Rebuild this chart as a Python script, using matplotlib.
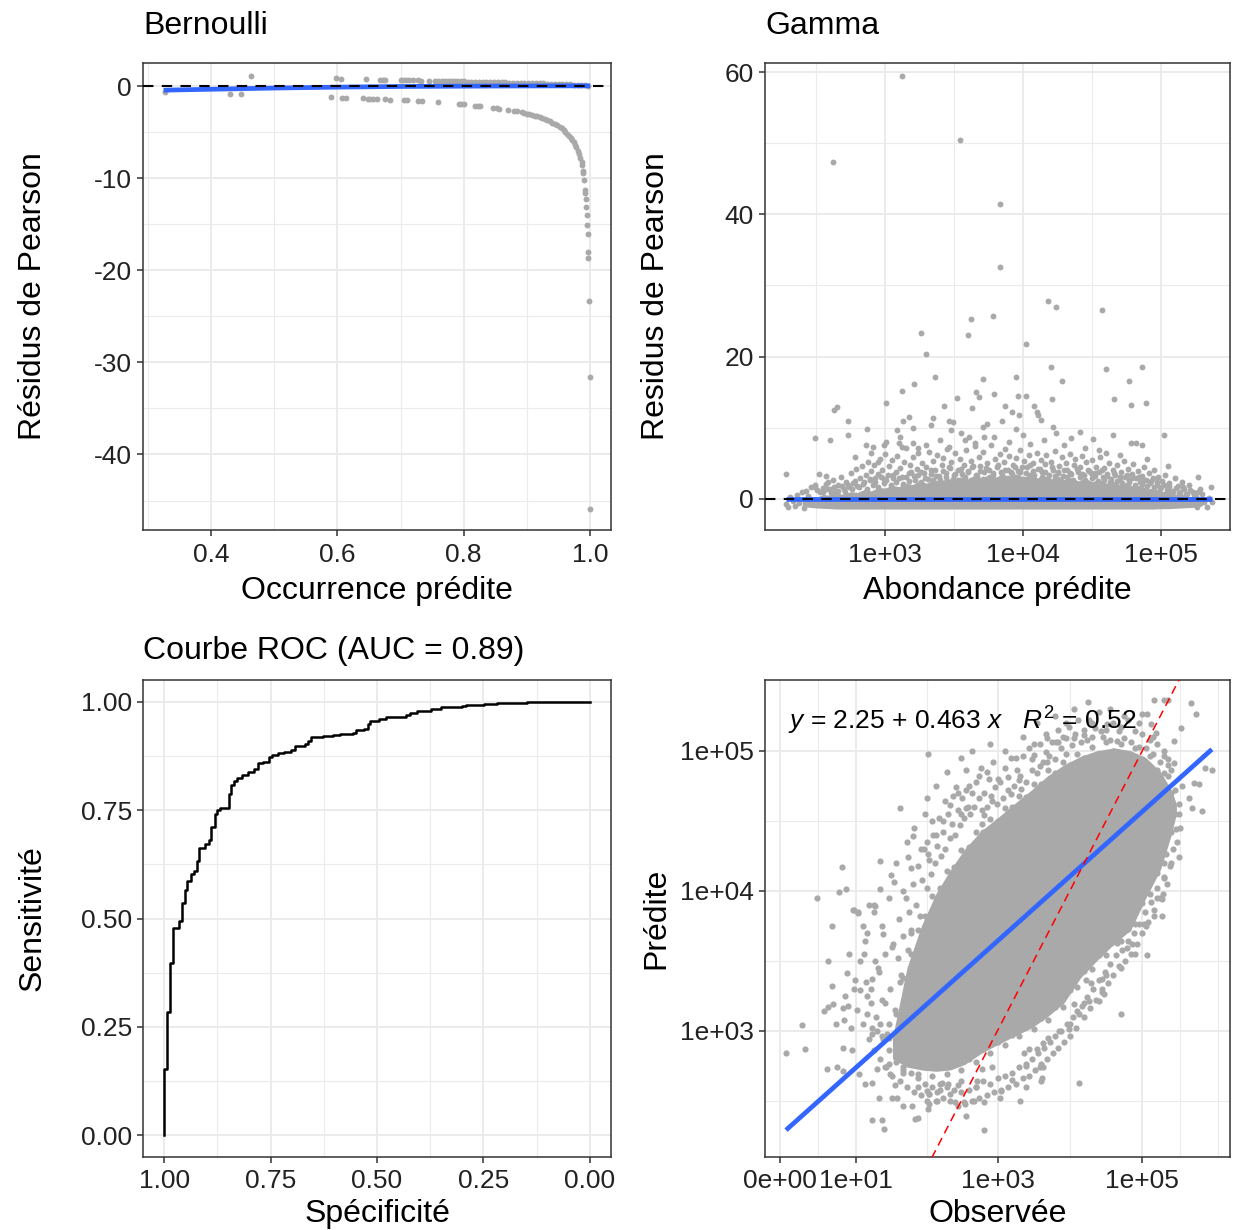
import numpy as np
import matplotlib
matplotlib.use('Agg')
import matplotlib.pyplot as plt
from matplotlib.ticker import FixedLocator, FixedFormatter

plt.rcParams['font.family'] = ['Liberation Sans', 'DejaVu Sans']
plt.rcParams['axes.unicode_minus'] = False
plt.rcParams['mathtext.fontset'] = 'custom'
plt.rcParams['mathtext.rm'] = 'Liberation Sans'
plt.rcParams['mathtext.it'] = 'Liberation Sans:italic'

# ---------------- Bernoulli : occurrence predite / residus de Pearson
bern_pos = [(0.463, 1.08), (0.598, 0.82), (0.606, 0.81), (0.645, 0.74), (0.668, 0.70),
            (0.673, 0.70), (0.676, 0.69), (0.700, 0.65), (0.704, 0.65), (0.708, 0.64),
            (0.713, 0.63), (0.720, 0.62), (0.727, 0.61), (0.733, 0.60), (0.745, 0.59),
            (0.755, 0.57), (0.760, 0.56), (0.765, 0.55), (0.770, 0.55), (0.775, 0.54),
            (0.780, 0.53), (0.785, 0.52), (0.790, 0.52), (0.795, 0.51), (0.800, 0.50),
            (0.806, 0.49), (0.812, 0.48), (0.818, 0.47), (0.824, 0.46), (0.830, 0.45),
            (0.836, 0.44), (0.842, 0.43), (0.848, 0.42), (0.854, 0.41), (0.860, 0.40),
            (0.866, 0.39), (0.872, 0.38), (0.878, 0.37), (0.884, 0.36), (0.890, 0.35),
            (0.896, 0.34), (0.902, 0.33), (0.908, 0.32), (0.914, 0.31), (0.920, 0.29),
            (0.926, 0.28), (0.932, 0.27), (0.938, 0.26), (0.944, 0.24), (0.950, 0.23),
            (0.956, 0.21), (0.962, 0.20), (0.968, 0.18), (0.974, 0.16), (0.980, 0.14),
            (0.986, 0.12), (0.992, 0.09), (0.997, 0.05)]
bern_neg = [(0.327, -0.70), (0.430, -0.87), (0.448, -0.90), (0.590, -1.20), (0.608, -1.25),
            (0.614, -1.26), (0.641, -1.34), (0.648, -1.36), (0.652, -1.37), (0.657, -1.38),
            (0.662, -1.40), (0.676, -1.45), (0.683, -1.47), (0.705, -1.55), (0.710, -1.57),
            (0.728, -1.64), (0.734, -1.66), (0.760, -1.78), (0.792, -1.95), (0.796, -1.97),
            (0.800, -2.00), (0.818, -2.12), (0.822, -2.15), (0.826, -2.18), (0.846, -2.34),
            (0.852, -2.40), (0.856, -2.44), (0.870, -2.59), (0.880, -2.71), (0.884, -2.76),
            (0.892, -2.87), (0.896, -2.93), (0.900, -3.00), (0.904, -3.07), (0.908, -3.14),
            (0.912, -3.22), (0.916, -3.30), (0.920, -3.39), (0.924, -3.49), (0.928, -3.59),
            (0.932, -3.70), (0.936, -3.82), (0.940, -3.96), (0.944, -4.11), (0.948, -4.27),
            (0.952, -4.45), (0.955, -4.61), (0.958, -4.78), (0.961, -4.96), (0.964, -5.17),
            (0.967, -5.41), (0.970, -5.69), (0.972, -5.89), (0.974, -6.12), (0.976, -6.38),
            (0.978, -6.67), (0.980, -7.00), (0.982, -7.38), (0.984, -7.84), (0.9865, -8.2),
            (0.9875, -8.6), (0.9885, -9.2), (0.989, -9.4), (0.990, -10.2), (0.9915, -11.3),
            (0.992, -11.6), (0.993, -12.3), (0.994, -13.1), (0.995, -14.0), (0.9956, -15.1),
            (0.9962, -16.1), (0.997, -18.0), (0.9972, -18.7), (0.998, -23.3), (0.999, -31.6),
            (0.9995, -45.9)]
bern_fit_x = [0.325, 0.40, 0.50, 0.60, 0.70, 0.85, 1.0]
bern_fit_y = [-0.45, -0.35, -0.22, -0.12, -0.05, 0.0, 0.02]

# ---------------- Gamma : log10(abondance predite) / residus de Pearson
gamma_out = [(2.62, 47.4), (3.12, 59.5), (3.54, 50.5), (3.83, 41.5), (3.83, 32.6), (4.18, 27.8),
             (4.24, 27.0), (4.57, 26.5), (3.26, 23.3), (3.62, 25.3), (3.60, 23.1), (3.78, 25.7),
             (4.02, 21.7), (3.30, 20.3), (4.60, 18.3), (4.86, 18.5), (4.20, 18.5), (4.28, 16.5),
             (4.77, 16.5), (4.66, 14.0), (4.78, 13.2), (4.89, 13.4), (4.21, 14.0), (3.71, 16.9),
             (3.36, 17.1), (3.21, 16.2), (3.12, 15.2), (3.01, 13.5), (3.52, 14.2), (3.66, 15.0),
             (3.68, 14.3), (3.79, 14.8), (3.43, 13.1), (3.63, 12.7), (3.95, 17.1), (3.96, 14.4),
             (4.02, 14.4), (4.08, 13.1), (4.10, 12.2), (4.11, 11.8), (4.13, 11.1), (2.63, 12.5),
             (2.65, 12.9), (2.73, 11.0), (2.49, 8.6), (2.60, 8.2), (2.73, 8.9), (2.28, 3.5),
             (2.52, 3.5), (2.57, 3.2), (2.59, 2.3), (2.49, 1.7), (2.87, 9.8), (2.78, 5.9),
             (5.02, 9.0), (5.27, 3.1), (5.36, 1.7), (4.41, 9.4), (4.51, 8.4), (4.65, 9.0),
             (4.78, 7.9), (4.82, 7.9), (4.86, 7.5), (4.22, 10.1), (4.24, 9.3), (4.35, 8.6),
             (3.95, 9.8), (3.85, 11.0), (3.87, 13.1), (3.92, 12.2), (3.97, 11.8), (3.09, 9.6),
             (3.11, 8.7), (3.17, 11.5), (3.13, 11.0), (3.20, 10.0), (3.24, 7.2), (3.35, 11.4),
             (3.33, 10.4), (3.46, 11.0), (3.49, 10.8), (3.48, 9.7), (3.46, 7.3), (3.58, 8.2),
             (3.61, 8.7), (3.74, 10.5), (3.71, 10.1), (3.72, 8.7), (3.79, 8.7), (2.90, 6.5),
             (2.91, 7.3), (2.86, 7.6), (2.99, 7.6), (3.01, 8.0), (3.10, 7.9), (3.12, 7.3),
             (3.20, 7.9), (3.55, 9.2), (3.90, 8.0), (4.00, 8.9), (4.05, 7.7), (4.15, 8.3),
             (4.30, 7.5), (4.45, 7.1), (4.55, 6.8), (3.65, 7.9), (3.40, 8.3), (3.30, 7.6),
             (4.60, 6.5), (4.70, 6.2), (4.90, 5.6), (5.05, 4.6), (2.95, 5.1)]
gamma_pts = [(2.28, -0.8), (2.30, -1.2), (2.31, 0.2), (2.33, -0.3), (2.35, -1.0), (2.36, 0.5),
             (2.38, -0.6), (2.40, 0.9), (2.41, -1.3), (2.43, 1.1), (2.44, 0.4), (2.46, 1.6),
             (2.47, -0.2), (2.49, 2.0), (2.51, 1.2), (2.53, 0.9), (2.55, 1.5), (2.57, 2.1),
             (2.60, 1.3), (2.62, 2.6), (2.64, 1.0), (2.66, 1.9), (2.68, 3.0), (2.70, 1.4),
             (2.72, 2.4), (2.74, 1.7), (2.75, 3.6), (2.77, 2.2), (2.79, 4.2), (2.80, 1.8),
             (2.82, 2.9), (2.83, 4.6), (2.85, 2.3), (2.86, 3.4), (2.88, 5.2), (2.89, 2.7),
             (2.90, 3.9), (2.92, 4.8), (2.93, 2.9), (2.95, 3.5), (2.96, 5.6), (2.98, 4.1),
             (2.99, 2.8), (3.00, 6.3), (3.02, 3.3), (3.03, 4.6), (3.05, 5.4), (3.06, 2.9),
             (3.08, 3.8), (3.09, 6.0), (3.11, 4.3), (3.12, 3.1), (3.14, 5.1), (3.15, 7.2),
             (3.17, 3.6), (3.18, 4.7), (3.20, 5.8), (3.21, 3.2), (3.23, 4.2), (3.24, 6.4),
             (3.26, 3.7), (3.27, 5.0), (3.29, 2.9), (3.30, 4.4), (3.32, 6.6), (3.33, 3.5),
             (3.35, 5.3), (3.36, 4.0), (3.38, 6.2), (3.39, 3.2), (3.41, 4.7), (3.42, 5.7),
             (3.44, 3.6), (3.45, 7.0), (3.47, 4.3), (3.48, 5.1), (3.50, 3.3), (3.51, 6.5),
             (3.53, 4.0), (3.54, 5.6), (3.56, 3.5), (3.57, 4.8), (3.59, 6.9), (3.60, 3.9),
             (3.62, 5.3), (3.63, 4.4), (3.65, 7.4), (3.66, 3.4), (3.68, 5.9), (3.69, 4.6),
             (3.71, 6.6), (3.72, 3.7), (3.74, 5.0), (3.75, 4.1), (3.77, 7.6), (3.78, 3.3),
             (3.80, 5.6), (3.81, 4.5), (3.83, 6.3), (3.84, 3.8), (3.86, 5.2), (3.87, 7.0),
             (3.89, 4.0), (3.90, 6.0), (3.92, 3.5), (3.93, 4.8), (3.95, 5.7), (3.96, 3.9),
             (3.98, 6.8), (3.99, 4.4), (4.01, 5.3), (4.02, 3.6), (4.04, 6.2), (4.05, 4.7),
             (4.07, 5.0), (4.08, 3.4), (4.10, 6.5), (4.11, 4.2), (4.13, 5.5), (4.14, 3.7),
             (4.16, 4.9), (4.17, 6.1), (4.19, 3.3), (4.20, 5.2), (4.22, 4.0), (4.23, 6.7),
             (4.25, 3.6), (4.26, 4.6), (4.28, 5.8), (4.29, 3.2), (4.31, 5.0), (4.32, 4.1),
             (4.34, 6.3), (4.35, 3.5), (4.37, 4.8), (4.38, 5.6), (4.40, 3.8), (4.41, 4.4),
             (4.43, 6.0), (4.44, 3.3), (4.46, 5.1), (4.47, 4.0), (4.49, 3.6), (4.50, 5.4),
             (4.52, 3.2), (4.53, 4.5), (4.55, 3.8), (4.56, 5.9), (4.58, 3.0), (4.59, 4.3),
             (4.61, 3.5), (4.62, 5.0), (4.64, 2.8), (4.65, 4.0), (4.67, 3.3), (4.68, 4.7),
             (4.70, 2.7), (4.71, 3.7), (4.73, 5.3), (4.74, 3.0), (4.76, 4.2), (4.77, 2.6),
             (4.79, 3.5), (4.80, 4.9), (4.82, 2.9), (4.83, 3.9), (4.85, 2.4), (4.86, 3.2),
             (4.88, 4.5), (4.89, 2.6), (4.91, 3.6), (4.92, 2.2), (4.94, 2.9), (4.95, 4.0),
             (4.97, 2.0), (4.98, 3.1), (5.00, 1.7), (5.01, 2.5), (5.03, 3.4), (5.05, 1.4),
             (5.06, 2.2), (5.08, 1.1), (5.10, 2.9), (5.12, 1.8), (5.13, 0.8), (5.15, 2.3),
             (5.17, 1.3), (5.19, 0.6), (5.20, 1.9), (5.22, -0.8), (5.23, 1.0), (5.25, 0.3),
             (5.26, -1.1), (5.28, 1.4), (5.30, 0.6), (5.31, -0.5), (5.33, -1.2), (5.35, 0.1),
             (5.37, -0.4)]
gamma_dense = [(2.55, 0.9), (2.58, 1.4), (2.61, 0.8), (2.63, 1.6), (2.66, 1.1), (2.69, 1.8),
               (2.71, 0.9), (2.73, 2.0), (2.76, 1.3), (2.78, 2.5), (2.81, 1.6), (2.84, 2.1),
               (2.87, 1.4), (2.89, 2.8), (2.91, 1.9), (2.93, 2.4), (2.95, 1.7), (2.97, 3.0),
               (2.99, 2.2), (3.01, 2.6), (3.04, 1.9), (3.06, 3.4), (3.08, 2.4), (3.10, 2.9),
               (3.13, 2.1), (3.15, 3.1), (3.17, 2.5), (3.19, 3.8), (3.22, 2.7), (3.24, 3.3),
               (3.26, 2.3), (3.28, 3.6), (3.31, 2.8), (3.33, 4.1), (3.35, 2.6), (3.37, 3.2),
               (3.40, 2.7), (3.42, 3.9), (3.44, 3.0), (3.46, 4.5), (3.49, 2.8), (3.51, 3.5),
               (3.53, 2.6), (3.55, 4.2), (3.58, 3.0), (3.60, 3.7), (3.62, 2.7), (3.64, 4.6),
               (3.67, 3.2), (3.69, 3.9), (3.71, 2.8), (3.73, 4.3), (3.76, 3.0), (3.78, 3.6),
               (3.80, 2.7), (3.82, 4.8), (3.85, 3.3), (3.87, 4.1), (3.89, 2.9), (3.91, 3.7),
               (3.94, 4.4), (3.96, 3.1), (3.98, 3.8), (4.00, 2.8), (4.03, 4.5), (4.05, 3.3),
               (4.07, 3.9), (4.09, 2.7), (4.12, 4.2), (4.14, 3.0), (4.16, 3.7), (4.18, 2.8),
               (4.21, 4.4), (4.23, 3.2), (4.25, 3.8), (4.27, 2.7), (4.30, 4.0), (4.32, 3.0),
               (4.34, 3.6), (4.36, 2.6), (4.39, 4.2), (4.41, 3.1), (4.43, 3.5), (4.45, 2.6),
               (4.48, 3.9), (4.50, 2.9), (4.52, 3.6), (4.54, 2.5), (4.57, 4.0), (4.59, 2.7),
               (4.61, 3.2), (4.63, 2.4), (4.66, 3.6), (4.68, 2.5), (4.70, 3.1), (4.72, 2.2),
               (4.75, 3.4), (4.77, 2.3), (4.79, 2.9), (4.81, 2.0), (4.84, 3.1), (4.86, 2.1),
               (4.88, 2.7), (4.90, 1.8), (4.93, 2.5), (4.95, 1.6), (4.97, 2.3), (4.99, 1.4),
               (5.02, 2.0), (5.04, 1.2), (5.06, 1.8), (5.09, 1.0), (5.11, 1.5), (5.14, 0.9),
               (5.16, 1.6), (5.18, 0.7), (5.21, 1.2), (5.24, 0.5), (5.27, 0.9)]
# bande saturee de points (bord irregulier)
band_lx = [2.40, 2.45, 2.50, 2.55, 2.60, 2.65, 2.70, 2.75, 2.80, 2.85, 2.90, 2.95, 3.00, 3.05,
           3.10, 3.15, 3.20, 3.25, 3.30, 3.35, 3.40, 3.45, 3.50, 3.55, 3.60, 3.65, 3.70, 3.75,
           3.80, 3.85, 3.90, 3.95, 4.00, 4.05, 4.10, 4.15, 4.20, 4.25, 4.30, 4.35, 4.40, 4.45,
           4.50, 4.55, 4.60, 4.65, 4.70, 4.75, 4.80, 4.85, 4.90, 4.95, 5.00, 5.05, 5.10, 5.15,
           5.20, 5.25, 5.30]
band_hi = [0.1, 0.4, 0.2, 0.6, 0.5, 0.8, 0.6, 1.0, 0.9, 1.3, 1.1, 1.6, 1.5, 1.9,
           1.7, 2.2, 2.0, 2.5, 2.2, 2.7, 2.4, 2.9, 2.6, 3.1, 2.8, 3.3, 2.9, 3.4,
           3.0, 3.5, 3.1, 3.5, 3.0, 3.4, 2.9, 3.3, 2.8, 3.2, 2.7, 3.0, 2.5, 2.9,
           2.4, 2.7, 2.2, 2.5, 2.0, 2.3, 1.7, 1.9, 1.4, 1.5, 1.0, 1.1, 0.6, 0.7,
           0.3, 0.3, 0.0]
band_lo = [-1.1, -1.2, -1.3, -1.35, -1.4, -1.45, -1.45, -1.45, -1.45, -1.45, -1.45, -1.45, -1.45, -1.45,
           -1.45, -1.45, -1.45, -1.45, -1.45, -1.45, -1.45, -1.45, -1.45, -1.45, -1.45, -1.45, -1.45, -1.45,
           -1.45, -1.45, -1.45, -1.45, -1.45, -1.45, -1.45, -1.45, -1.45, -1.45, -1.45, -1.45, -1.45, -1.45,
           -1.45, -1.45, -1.45, -1.45, -1.45, -1.45, -1.45, -1.45, -1.45, -1.45, -1.4, -1.4, -1.35, -1.3,
           -1.25, -1.2, -1.0]
gamma_fit_x = [2.28, 5.37]
gamma_fit_y = [0.0, 0.0]

# ---------------- Courbe ROC : (1 - specificite, sensibilite)
roc = [(0.0, 0.0), (0.0, 0.154), (0.007, 0.285), (0.013, 0.398), (0.0195, 0.478), (0.0335, 0.494),
       (0.041, 0.536), (0.048, 0.565), (0.054, 0.587), (0.062, 0.602), (0.069, 0.609), (0.076, 0.632),
       (0.082, 0.663), (0.096, 0.672), (0.104, 0.682), (0.110, 0.711), (0.119, 0.740), (0.124, 0.750),
       (0.130, 0.755), (0.152, 0.788), (0.158, 0.807), (0.165, 0.817), (0.171, 0.823), (0.182, 0.831),
       (0.196, 0.838), (0.210, 0.844), (0.220, 0.858), (0.233, 0.862), (0.247, 0.873), (0.253, 0.877),
       (0.268, 0.881), (0.282, 0.885), (0.297, 0.888), (0.307, 0.898), (0.330, 0.902), (0.338, 0.909),
       (0.346, 0.918), (0.373, 0.920), (0.396, 0.923), (0.412, 0.926), (0.443, 0.928), (0.451, 0.934),
       (0.469, 0.937), (0.478, 0.948), (0.484, 0.955), (0.505, 0.960), (0.521, 0.965), (0.568, 0.969),
       (0.578, 0.975), (0.595, 0.979), (0.626, 0.983), (0.650, 0.987), (0.700, 0.990), (0.710, 0.992),
       (0.751, 0.995), (0.782, 0.9977), (0.852, 0.999), (0.899, 1.0), (1.0, 1.0)]

# ---------------- Observee vs predite (log10(1+obs), log10(pred))
core_obs = [1.55, 1.75, 1.95, 2.15, 2.35, 2.55, 2.78, 3.00, 3.23, 3.47, 3.69, 3.92, 4.15, 4.37,
            4.61, 4.84, 5.05, 5.25, 5.40, 5.47]
core_hi = [2.95, 3.45, 3.75, 3.98, 4.15, 4.30, 4.43, 4.52, 4.62, 4.72, 4.82, 4.90, 4.96, 5.00,
           5.02, 5.00, 4.95, 4.85, 4.72, 4.62]
core_lo = [2.80, 2.74, 2.72, 2.71, 2.72, 2.76, 2.84, 2.90, 2.96, 3.02, 3.10, 3.20, 3.38, 3.50,
           3.62, 3.72, 3.95, 4.15, 4.40, 4.55]
# points a la limite de la zone saturee
obs_rim = [(1.50, 2.95), (1.60, 3.12), (1.70, 3.38), (1.80, 3.55), (1.90, 3.72), (2.00, 3.82),
           (2.10, 3.96), (2.20, 4.02), (2.30, 4.14), (2.40, 4.17), (2.50, 4.29), (2.60, 4.31),
           (2.70, 4.42), (2.80, 4.42), (2.90, 4.51), (3.00, 4.50), (3.10, 4.59), (3.20, 4.60),
           (3.30, 4.68), (3.40, 4.67), (3.50, 4.76), (3.60, 4.76), (3.70, 4.86), (3.80, 4.84),
           (3.90, 4.92), (4.00, 4.90), (4.10, 4.98), (4.20, 4.95), (4.30, 5.03), (4.40, 4.98),
           (4.50, 5.06), (4.60, 5.00), (4.70, 5.05), (4.80, 4.98), (4.90, 5.02), (5.00, 4.94),
           (5.10, 4.96), (5.20, 4.86), (5.30, 4.84), (5.40, 4.70),
           (1.50, 2.76), (1.60, 2.81), (1.70, 2.72), (1.80, 2.77), (1.90, 2.69), (2.00, 2.74),
           (2.10, 2.68), (2.20, 2.74), (2.30, 2.69), (2.40, 2.76), (2.50, 2.72), (2.60, 2.80),
           (2.70, 2.78), (2.80, 2.87), (2.90, 2.84), (3.00, 2.92), (3.10, 2.90), (3.20, 2.97),
           (3.30, 2.96), (3.40, 3.03), (3.50, 3.01), (3.60, 3.09), (3.70, 3.08), (3.80, 3.17),
           (3.90, 3.17), (4.00, 3.29), (4.10, 3.31), (4.20, 3.43), (4.30, 3.44), (4.40, 3.54),
           (4.50, 3.54), (4.60, 3.64), (4.70, 3.64), (4.80, 3.73), (4.90, 3.76), (5.00, 3.91),
           (5.10, 3.98), (5.20, 4.13), (5.30, 4.20), (5.40, 4.42)]
obs_pts = [(0.51, 3.95), (0.85, 4.17), (0.81, 3.99), (0.91, 4.01), (1.02, 3.86), (1.07, 3.85),
           (1.22, 3.90), (1.29, 3.85), (1.38, 4.21), (1.38, 4.01), (1.53, 4.11), (1.57, 4.06),
           (1.66, 4.59), (1.76, 4.24), (1.80, 4.16), (1.83, 4.39), (2.02, 4.66), (2.04, 4.98),
           (2.02, 4.35), (2.04, 4.26), (2.15, 4.40), (2.27, 4.64), (2.34, 4.61), (2.43, 4.74),
           (2.56, 4.86), (2.56, 4.59), (2.50, 4.55), (2.75, 4.82), (2.82, 4.54), (2.79, 4.48),
           (2.92, 4.64), (3.15, 4.81), (3.30, 4.79), (3.33, 4.73), (3.19, 4.69), (3.47, 4.94),
           (3.59, 4.89), (3.69, 4.92), (3.69, 5.09), (3.67, 4.99), (3.81, 5.06), (3.84, 5.06),
           (3.95, 5.09), (4.06, 5.09), (4.20, 5.11), (4.43, 5.14), (4.51, 5.19), (4.68, 5.14),
           (4.99, 5.26), (5.06, 5.26), (5.16, 5.36), (5.30, 5.36), (5.36, 5.36), (5.12, 5.19),
           (5.19, 5.13), (5.30, 5.00), (5.36, 4.94), (5.43, 4.91), (5.67, 5.34), (5.74, 5.26),
           (5.54, 5.16), (5.43, 5.07), (5.87, 4.88), (5.96, 4.86), (5.78, 4.76), (5.71, 4.77),
           (5.64, 4.66), (5.68, 4.59), (5.82, 4.57), (5.46, 4.44), (5.50, 4.24), (5.32, 4.26),
           (5.30, 4.09), (5.25, 4.41), (5.06, 4.20), (5.12, 4.16), (5.27, 3.94), (5.05, 3.99),
           (0.08, 2.84), (0.34, 2.87), (0.30, 3.04), (0.66, 3.50), (0.72, 3.32), (0.72, 3.75),
           (0.65, 2.73), (0.78, 2.74), (0.87, 2.71), (0.61, 3.14), (0.66, 3.17), (0.73, 3.19),
           (0.77, 3.05), (0.88, 3.08), (0.87, 2.88), (0.99, 2.86), (0.87, 3.16), (0.94, 3.18),
           (0.92, 3.41), (1.03, 3.36), (1.00, 3.86), (1.07, 3.84), (1.09, 2.69), (1.17, 2.62),
           (1.27, 2.63), (1.10, 3.29), (1.20, 3.25), (1.27, 3.37), (1.17, 3.64), (1.14, 3.75),
           (1.31, 3.89), (1.27, 2.36), (1.40, 2.36), (1.43, 2.30), (1.36, 2.52), (1.42, 3.69),
           (1.31, 3.50), (1.20, 3.12), (1.27, 3.02), (1.38, 3.05), (1.27, 2.98), (1.40, 2.96),
           (1.33, 2.73), (1.44, 2.74), (1.51, 2.69), (1.58, 2.61), (1.54, 2.52), (1.61, 2.52),
           (1.69, 2.46), (1.82, 2.46), (1.86, 2.37), (1.90, 2.38), (2.02, 2.57), (2.06, 2.55),
           (2.02, 2.50), (2.04, 2.44), (2.16, 2.56), (2.17, 2.50), (2.23, 2.63), (2.31, 2.62),
           (2.42, 2.49), (2.54, 2.49), (2.45, 2.61), (2.49, 2.64), (2.57, 2.39), (2.67, 2.50),
           (2.81, 2.49), (2.72, 2.64), (2.79, 2.73), (2.81, 2.29), (2.92, 2.74), (3.03, 2.52),
           (3.05, 2.57), (3.31, 2.50), (3.40, 2.60), (3.58, 2.74), (3.63, 2.74), (3.60, 2.64),
           (3.62, 2.66), (3.55, 2.87), (3.63, 2.91), (3.44, 2.87), (3.37, 2.84), (4.13, 2.63),
           (3.99, 3.01), (4.26, 3.21), (4.40, 3.21), (4.06, 3.19), (4.10, 3.14), (4.22, 3.36),
           (4.29, 3.34), (4.44, 3.30), (4.47, 3.26), (4.70, 3.12), (4.44, 3.37), (4.57, 3.63),
           (4.65, 3.63), (5.06, 3.54), (4.86, 3.62), (4.79, 3.59), (5.02, 3.76), (5.16, 3.82),
           (5.27, 3.82), (4.88, 3.89), (4.79, 3.86),
           (1.15, 3.55), (1.20, 3.70), (1.25, 3.30), (1.30, 3.90), (1.35, 3.45), (1.40, 3.75),
           (1.45, 3.20), (1.50, 3.95), (1.50, 3.05), (1.55, 3.60), (1.60, 4.20), (1.60, 2.85),
           (1.65, 3.35), (1.70, 4.00), (1.70, 2.70), (1.75, 4.35), (1.80, 3.70), (1.85, 4.45),
           (1.90, 2.60), (1.95, 4.30), (2.00, 4.55), (2.05, 2.55), (2.10, 4.50), (2.15, 4.75),
           (2.20, 2.58), (2.25, 4.50), (2.30, 4.85), (2.35, 2.55), (2.45, 4.70), (2.50, 4.95),
           (2.60, 4.75), (2.65, 5.00), (2.70, 2.60), (2.85, 4.85), (2.90, 5.05), (3.00, 4.80),
           (3.10, 5.00), (3.20, 2.65), (3.25, 4.95), (3.35, 5.10), (3.40, 2.75), (3.50, 5.05),
           (3.55, 5.20), (3.70, 2.95), (3.80, 5.25), (3.85, 3.00), (3.95, 5.20), (4.00, 3.05),
           (4.05, 5.30), (4.20, 3.20), (4.25, 5.35), (4.30, 5.20), (4.50, 3.40), (4.55, 5.30),
           (4.70, 3.45), (4.75, 5.25), (4.90, 3.55), (4.95, 5.20), (5.05, 3.75), (5.15, 5.10),
           (5.20, 3.95), (5.35, 4.90), (5.40, 4.20), (5.50, 4.55), (5.55, 4.75)]
# points serres en bordure du nuage
obs_edge = [(1.32, 3.10), (1.36, 3.42), (1.41, 3.22), (1.45, 3.55), (1.48, 2.98), (1.52, 3.30),
            (1.56, 3.62), (1.58, 3.15), (1.62, 3.52), (1.64, 3.80), (1.67, 3.40), (1.70, 3.68),
            (1.73, 3.95), (1.76, 3.58), (1.78, 3.85), (1.81, 3.72), (1.84, 4.05), (1.87, 3.90),
            (1.90, 4.18), (1.93, 3.82), (1.96, 4.08), (1.99, 4.30), (2.02, 4.02), (2.05, 4.22),
            (2.08, 4.12), (2.11, 4.40), (2.14, 4.20), (2.17, 4.32), (2.19, 4.52), (2.22, 4.25),
            (2.25, 4.42), (2.28, 4.30), (2.31, 4.55), (2.34, 4.38), (2.37, 4.48), (2.39, 4.68),
            (2.42, 4.40), (2.45, 4.58), (2.48, 4.47), (2.51, 4.66), (2.54, 4.52), (2.57, 4.72),
            (2.59, 4.60), (2.62, 4.55), (2.65, 4.70), (2.68, 4.60), (2.71, 4.78), (2.74, 4.66),
            (2.77, 4.88), (2.79, 4.58), (2.82, 4.70), (2.85, 4.60), (2.88, 4.80), (2.91, 4.68),
            (2.94, 4.92), (2.97, 4.74), (2.99, 4.62), (3.03, 4.78), (3.07, 4.66), (3.11, 4.88),
            (3.15, 4.72), (3.19, 4.95), (3.23, 4.75), (3.27, 4.86), (3.31, 4.82), (3.35, 4.96),
            (3.39, 4.78), (3.43, 5.02), (3.47, 4.86), (3.51, 4.97), (3.55, 4.84), (3.59, 5.05),
            (3.63, 4.92), (3.67, 5.12), (3.71, 4.96), (3.75, 5.06), (3.79, 4.94), (3.83, 5.15),
            (3.87, 5.02), (3.91, 5.10), (3.95, 4.98), (3.99, 5.17), (4.03, 5.04), (4.07, 5.12),
            (4.11, 5.22), (4.15, 5.06), (4.19, 5.15), (4.23, 5.08), (4.27, 5.22), (4.31, 5.10),
            (4.35, 5.16), (4.40, 5.28), (4.45, 5.10), (4.50, 5.15), (4.55, 5.08), (4.60, 5.20),
            (4.65, 5.07), (4.70, 5.17), (4.75, 5.09), (4.80, 5.22), (4.85, 5.06), (4.90, 5.14),
            (4.95, 5.03), (5.00, 5.12), (5.05, 5.02), (5.10, 5.08), (5.15, 4.98), (5.20, 5.05),
            (5.25, 4.92), (5.30, 4.96), (5.35, 4.82), (5.40, 4.86), (5.45, 4.72), (5.50, 4.62),
            (5.45, 4.55), (5.52, 4.45), (5.48, 4.35), (5.42, 4.30), (5.38, 4.18), (5.34, 4.05),
            (5.30, 4.10), (5.28, 3.98), (5.24, 3.95), (5.20, 4.02), (5.16, 3.86), (5.12, 3.92),
            (5.08, 3.78), (5.04, 3.85), (5.00, 3.70), (4.96, 3.76), (4.92, 3.62), (4.88, 3.70),
            (4.84, 3.55), (4.80, 3.64), (4.76, 3.50), (4.72, 3.58), (4.68, 3.46), (4.64, 3.54),
            (4.60, 3.40), (4.56, 3.48), (4.52, 3.34), (4.48, 3.42), (4.44, 3.28), (4.40, 3.36),
            (4.36, 3.22), (4.32, 3.30), (4.28, 3.16), (4.24, 3.24), (4.20, 3.10), (4.16, 3.18),
            (4.12, 3.12), (4.08, 3.02), (4.04, 3.10), (4.00, 2.96), (3.96, 3.05), (3.92, 2.92),
            (3.88, 3.00), (3.84, 2.88), (3.80, 2.96), (3.76, 2.84), (3.72, 2.92), (3.68, 2.80),
            (3.64, 2.88), (3.60, 2.76), (3.56, 2.84), (3.52, 2.72), (3.48, 2.80), (3.44, 2.68),
            (3.40, 2.76), (3.35, 2.66), (3.30, 2.74), (3.25, 2.62), (3.20, 2.70), (3.15, 2.60),
            (3.10, 2.68), (3.05, 2.58), (3.00, 2.66), (2.95, 2.56), (2.90, 2.62), (2.85, 2.54),
            (2.80, 2.64), (2.75, 2.52), (2.70, 2.60), (2.65, 2.50), (2.60, 2.58), (2.55, 2.48),
            (2.50, 2.56), (2.45, 2.46), (2.40, 2.58), (2.35, 2.50), (2.30, 2.60), (2.25, 2.52),
            (2.20, 2.62), (2.15, 2.50), (2.10, 2.60), (2.05, 2.48), (2.00, 2.62), (1.95, 2.54),
            (1.90, 2.66), (1.85, 2.56), (1.80, 2.70), (1.75, 2.60), (1.70, 2.74), (1.65, 2.64),
            (1.60, 2.78), (1.55, 2.68), (1.50, 2.86), (1.46, 2.74), (1.42, 2.94), (1.38, 2.80),
            (1.34, 3.00), (1.30, 2.86), (1.26, 3.20), (1.22, 2.94), (1.18, 3.35), (1.14, 3.05),
            (1.10, 3.50), (1.06, 3.15), (1.02, 3.30), (0.98, 3.02), (0.95, 3.55), (0.90, 3.25)]
fit_obs = [0.08, 5.96]
fit_pred = [2.29, 5.01]
one_to_one = [-0.21, 6.21]

GREY = '#A9A9A9'
BLUE = '#3366FF'
W, H = 1238, 1230


def style(ax):
    for s in ax.spines.values():
        s.set_color('#333333')
        s.set_linewidth(1.1)
    ax.grid(True, which='major', color='#EBEBEB', lw=1.4)
    ax.grid(True, which='minor', color='#EBEBEB', lw=0.8)
    ax.set_axisbelow(True)
    ax.tick_params(which='major', length=4.5, width=1.1, color='#333333',
                   labelsize=19, labelcolor='#222222', pad=3.5)
    ax.tick_params(axis='x', which='major', pad=4.5)
    ax.tick_params(which='minor', length=0)


def labels(ax, title, xlab, ylab, ty, xy, yx):
    ax.text(0, ty, title, transform=ax.transAxes, fontsize=23, ha='left', va='baseline')
    ax.set_xlabel(xlab, fontsize=23, va='baseline')
    ax.xaxis.set_label_coords(0.5, xy)
    ax.set_ylabel(ylab, fontsize=23, va='baseline')
    ax.yaxis.set_label_coords(yx, 0.5)


fig = plt.figure(figsize=(W / 100, H / 100), dpi=100)
ax1 = fig.add_axes([143 / W, 1 - 530 / H, 468 / W, 467 / H])
ax2 = fig.add_axes([765 / W, 1 - 530 / H, 465 / W, 467 / H])
ax3 = fig.add_axes([143 / W, 1 - 1157 / H, 468 / W, 477 / H])
ax4 = fig.add_axes([765 / W, 1 - 1157 / H, 465 / W, 477 / H])

# --- Bernoulli
bp = np.array(bern_pos)
bn = np.array(bern_neg)
ax1.scatter(bp[:, 0], bp[:, 1], s=18, color=GREY, lw=0, zorder=2)
ax1.scatter(bn[:, 0], bn[:, 1], s=18, color=GREY, lw=0, zorder=2)
ax1.plot(bern_fit_x, bern_fit_y, color=BLUE, lw=3.4, zorder=3, solid_capstyle='butt')
ax1.axhline(0, color='black', lw=1.5, ls=(0, (5, 4)), zorder=4)
ax1.set_xlim(0.2925, 1.033)
ax1.set_ylim(-48.2, 2.5)
ax1.xaxis.set_major_locator(FixedLocator([0.4, 0.6, 0.8, 1.0]))
ax1.xaxis.set_major_formatter(FixedFormatter(['0.4', '0.6', '0.8', '1.0']))
ax1.xaxis.set_minor_locator(FixedLocator([0.3, 0.5, 0.7, 0.9]))
ax1.yaxis.set_major_locator(FixedLocator([-40, -30, -20, -10, 0]))
ax1.yaxis.set_major_formatter(FixedFormatter(['-40', '-30', '-20', '-10', '0']))
ax1.yaxis.set_minor_locator(FixedLocator([-45, -35, -25, -15, -5]))
style(ax1)
labels(ax1, 'Bernoulli', 'Occurrence prédite', 'Résidus de Pearson', 1.062, -0.147, -0.218)

# --- Gamma
ax2.set_xscale('log')
ax2.fill_between(np.power(10, band_lx), band_lo, band_hi, color=GREY, lw=0, zorder=2)
for pts in (gamma_pts, gamma_dense, gamma_out):
    a = np.array(pts)
    ax2.scatter(np.power(10, a[:, 0]), a[:, 1], s=18, color=GREY, lw=0, zorder=2)
ax2.plot(np.power(10, gamma_fit_x), gamma_fit_y, color=BLUE, lw=3.4, zorder=3, solid_capstyle='butt')
ax2.axhline(0, color='black', lw=1.5, ls=(0, (5, 4)), zorder=4)
ax2.set_xlim(10 ** 2.13, 10 ** 5.50)
ax2.set_ylim(-4.4, 61.3)
ax2.xaxis.set_major_locator(FixedLocator([1e3, 1e4, 1e5]))
ax2.xaxis.set_major_formatter(FixedFormatter(['1e+03', '1e+04', '1e+05']))
ax2.xaxis.set_minor_locator(FixedLocator([10 ** 2.5, 10 ** 3.5, 10 ** 4.5]))
ax2.yaxis.set_major_locator(FixedLocator([0, 20, 40, 60]))
ax2.yaxis.set_major_formatter(FixedFormatter(['0', '20', '40', '60']))
ax2.yaxis.set_minor_locator(FixedLocator([10, 30, 50]))
style(ax2)
labels(ax2, 'Gamma', 'Abondance prédite', 'Residus de Pearson', 1.062, -0.147, -0.217)

# --- ROC
r = np.array(roc)
ax3.plot(1 - r[:, 0], r[:, 1], color='black', lw=1.8, drawstyle='steps-post', zorder=3)
ax3.set_xlim(1.05, -0.05)
ax3.set_ylim(-0.05, 1.05)
tk = [0.0, 0.25, 0.5, 0.75, 1.0]
tl = ['0.00', '0.25', '0.50', '0.75', '1.00']
ax3.xaxis.set_major_locator(FixedLocator(tk))
ax3.xaxis.set_major_formatter(FixedFormatter(tl))
ax3.yaxis.set_major_locator(FixedLocator(tk))
ax3.yaxis.set_major_formatter(FixedFormatter(tl))
ax3.xaxis.set_minor_locator(FixedLocator([0.125, 0.375, 0.625, 0.875]))
ax3.yaxis.set_minor_locator(FixedLocator([0.125, 0.375, 0.625, 0.875]))
style(ax3)
labels(ax3, 'Courbe ROC (AUC = 0.89)', 'Spécificité', 'Sensitivité', 1.044, -0.136, -0.220)

# --- Observee / predite
fwd = (lambda v: np.log10(1 + np.asarray(v, dtype=float)), lambda u: np.power(10, u) - 1)
ax4.set_xscale('function', functions=fwd)
ax4.set_yscale('log')
cx = np.power(10, np.array(core_obs)) - 1
ax4.fill_between(cx, np.power(10, core_lo), np.power(10, core_hi), color=GREY, lw=0, zorder=2)
for pts in (obs_rim, obs_pts, obs_edge):
    a = np.array(pts)
    ax4.scatter(np.power(10, a[:, 0]) - 1, np.power(10, a[:, 1]), s=20, color=GREY, lw=0, zorder=2)
ax4.plot(np.power(10, fit_obs) - 1, np.power(10, fit_pred), color=BLUE, lw=3.4, zorder=3,
         solid_capstyle='butt')
ax4.plot(np.power(10, one_to_one) - 1, np.power(10, one_to_one), color='red', lw=1.1,
         ls=(0, (5.5, 3.5)), zorder=4)
ax4.set_xlim(10 ** -0.21 - 1, 10 ** 6.21 - 1)
ax4.set_ylim(10 ** 2.098, 10 ** 5.505)
ax4.xaxis.set_major_locator(FixedLocator([0, 10, 1e3, 1e5]))
ax4.xaxis.set_major_formatter(FixedFormatter(['0e+00', '1e+01', '1e+03', '1e+05']))
ax4.xaxis.set_minor_locator(FixedLocator(np.power(10, [0.52, 2.02, 4.0, 5.52, 6.04]) - 1))
ax4.yaxis.set_major_locator(FixedLocator([1e3, 1e4, 1e5]))
ax4.yaxis.set_major_formatter(FixedFormatter(['1e+03', '1e+04', '1e+05']))
ax4.yaxis.set_minor_locator(FixedLocator(np.power(10, [2.5, 3.5, 4.5])))
style(ax4)
labels(ax4, '', 'Observée', 'Prédite', 1.044, -0.136, -0.217)
ax4.text(0.049, 0.895, r'$y$ = 2.25 + 0.463 $x$   $R^2$ = 0.52', transform=ax4.transAxes,
         fontsize=19, ha='left', va='baseline', zorder=5)

fig.savefig('out.png', dpi=100)
